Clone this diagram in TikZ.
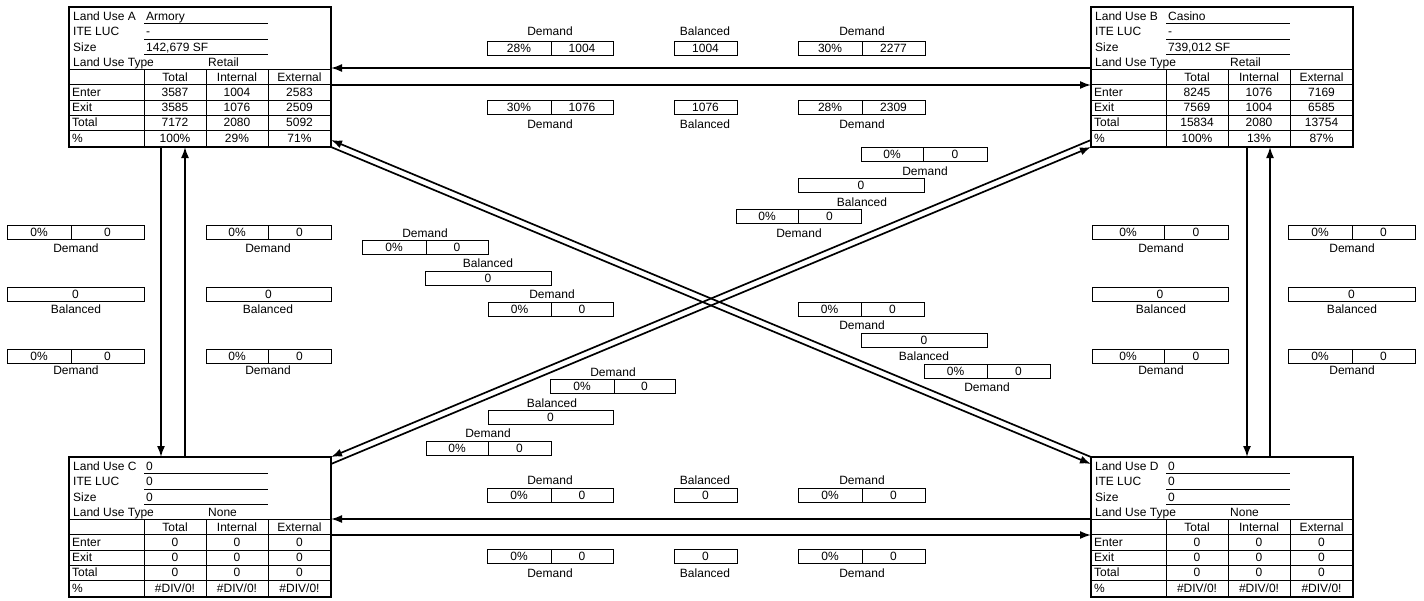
\documentclass[tikz,border=0pt]{standalone}
\usepackage{fontspec}
\setmainfont{Liberation Sans}
\usetikzlibrary{arrows.meta}
\tikzset{
  tblout/.style={line width=1.8pt},
  tblin/.style={line width=0.9pt},
  cellst/.style={line width=1pt},
  txt/.style={inner sep=0pt, font=\fontsize{12}{14}\selectfont},
  arr/.style={line width=1.7pt, -{Latex[length=11pt,width=8pt]}},
}
\def\bh{14}
\def\bb{11.3}
% table frame and header: #1 name, #2 x0, #3 y0, #4 letter, #5 use, #6 luc, #7 size, #8 type
\newcommand{\lubox}[8]{%
\begin{scope}[shift={(#2,#3)}]
  \fill[white] (0,0) rectangle (262,140);
  \draw[tblin] (0,62) -- (262,62) (0,77) -- (262,77) (0,93) -- (262,93)
               (0,108) -- (262,108) (0,123) -- (262,123);
  \draw[tblin] (75,62) -- (75,140) (137,62) -- (137,140) (199,62) -- (199,140);
  \draw[tblin] (75,16) -- (199,16) (75,32) -- (199,32) (75,47) -- (199,47);
  \draw[tblout] (0,0) rectangle (262,140);
  \node[txt,anchor=base west] (#1h1) at (4,13) {Land Use #4};
  \node[txt,anchor=base west] (#1v1) at (77,13) {#5};
  \node[txt,anchor=base west] (#1h2) at (4,28) {ITE LUC};
  \node[txt,anchor=base west] (#1v2) at (77,28) {#6};
  \node[txt,anchor=base west] (#1h3) at (4,44) {Size};
  \node[txt,anchor=base west] (#1v3) at (77,44) {#7};
  \node[txt,anchor=base west] (#1h4) at (4,59) {Land Use Type};
  \node[txt,anchor=base west] (#1v4) at (139,59) {#8};
  \node[txt,anchor=base] (#1c1) at (106,74) {Total};
  \node[txt,anchor=base] (#1c2) at (168,74) {Internal};
  \node[txt,anchor=base] (#1c3) at (230.5,74) {External};
\end{scope}}
% table row: #1 name, #2 x0, #3 y0, #4 baseline, #5 label, #6 #7 #8 values
\newcommand{\lucells}[8]{%
\begin{scope}[shift={(#2,#3)}]
  \node[txt,anchor=base west] (#1l) at (3,#4) {#5};
  \node[txt,anchor=base] (#1a) at (106,#4) {#6};
  \node[txt,anchor=base] (#1b) at (168,#4) {#7};
  \node[txt,anchor=base] (#1c) at (230.5,#4) {#8};
\end{scope}}
% demand box: #1 name, #2 x1, #3 xs, #4 x2, #5 y1, #6 pct, #7 val
\newcommand{\dbox}[7]{%
  \draw[cellst,fill=white] (#2,#5) rectangle (#4,{#5+\bh});
  \draw[cellst] (#3,#5) -- (#3,{#5+\bh});
  \node[txt,anchor=base] (#1a) at ({(#2+#3)/2},{#5+\bb}) {#6};
  \node[txt,anchor=base] (#1b) at ({(#3+#4)/2},{#5+\bb}) {#7};}
% balanced box: #1 name, #2 x1, #3 x2, #4 y1, #5 val
\newcommand{\bbox}[5]{%
  \draw[cellst,fill=white] (#2,#4) rectangle (#3,{#4+\bh});
  \node[txt,anchor=base] (#1a) at ({(#2+#3)/2},{#4+\bb}) {#5};}
% label: #1 name, #2 x, #3 center y, #4 text
\newcommand{\blab}[4]{\node[txt,anchor=base] (#1) at (#2,{#3+4.3}) {#4};}

\begin{document}
\begin{tikzpicture}[x=1pt,y=-1pt]
\useasboundingbox (0,0) rectangle (1424,600);
\fill[white] (0,0) rectangle (1424,600);

% anchor coordinates on the tables
\coordinate (Ab1) at (161,147);  \coordinate (Ct1) at (161,457);
\coordinate (Ab2) at (185,147);  \coordinate (Ct2) at (185,457);
\coordinate (Bb1) at (1247,147); \coordinate (Dt1) at (1247,457);
\coordinate (Bb2) at (1270,147); \coordinate (Dt2) at (1270,457);
\coordinate (Ar1) at (331,68);   \coordinate (Bl1) at (1091,68);
\coordinate (Ar2) at (331,85);   \coordinate (Bl2) at (1091,85);
\coordinate (Cr1) at (331,519);  \coordinate (Dl1) at (1091,519);
\coordinate (Cr2) at (331,535);  \coordinate (Dl2) at (1091,535);
\coordinate (Acr) at (331,147);  \coordinate (Are) at (331,140);
\coordinate (Dtl) at (1091,457); \coordinate (Dle) at (1091,464);
\coordinate (Bbl) at (1091,147); \coordinate (Ble) at (1091,140);
\coordinate (Ctr) at (331,457);  \coordinate (Cre) at (331,464);

% connectors
\draw[arr] (Ab1) -- (Ct1);
\draw[arr] (Ct2) -- (Ab2);
\draw[arr] (Bb1) -- (Dt1);
\draw[arr] (Dt2) -- (Bb2);
\draw[arr] (Bl1) -- (Ar1);
\draw[arr] (Ar2) -- (Bl2);
\draw[arr] (Dl1) -- (Cr1);
\draw[arr] (Cr2) -- (Dl2);
\draw[arr] (Dtl) -- (Are);
\draw[arr] (Acr) -- (Dle);
\draw[arr] (Ble) -- (Ctr);
\draw[arr] (Cre) -- (Bbl);

% tables
\lubox{A}{69}{7}{A}{Armory}{-}{142,679 SF}{Retail}
\lucells{Ae}{69}{7}{89}{Enter}{3587}{1004}{2583}
\lucells{Ax}{69}{7}{104}{Exit}{3585}{1076}{2509}
\lucells{At}{69}{7}{119}{Total}{7172}{2080}{5092}
\lucells{Ap}{69}{7}{135}{\%}{100\%}{29\%}{71\%}

\lubox{B}{1091}{7}{B}{Casino}{-}{739,012 SF}{Retail}
\lucells{Be}{1091}{7}{89}{Enter}{8245}{1076}{7169}
\lucells{Bx}{1091}{7}{104}{Exit}{7569}{1004}{6585}
\lucells{Bt}{1091}{7}{119}{Total}{15834}{2080}{13754}
\lucells{Bp}{1091}{7}{135}{\%}{100\%}{13\%}{87\%}

\lubox{C}{69}{457}{C}{0}{0}{0}{None}
\lucells{Ce}{69}{457}{89}{Enter}{0}{0}{0}
\lucells{Cx}{69}{457}{104}{Exit}{0}{0}{0}
\lucells{Ct}{69}{457}{119}{Total}{0}{0}{0}
\lucells{Cp}{69}{457}{135}{\%}{\#DIV/0!}{\#DIV/0!}{\#DIV/0!}

\lubox{D}{1091}{457}{D}{0}{0}{0}{None}
\lucells{De}{1091}{457}{89}{Enter}{0}{0}{0}
\lucells{Dx}{1091}{457}{104}{Exit}{0}{0}{0}
\lucells{Dt}{1091}{457}{119}{Total}{0}{0}{0}
\lucells{Dp}{1091}{457}{135}{\%}{\#DIV/0!}{\#DIV/0!}{\#DIV/0!}

% A-B boxes
\dbox{ab1}{487}{551}{613}{41}{28\%}{1004}   \blab{ab1l}{550}{31}{Demand}
\bbox{ab2}{674}{737}{41}{1004}              \blab{ab2l}{705}{31}{Balanced}
\dbox{ab3}{798}{862}{925}{41}{30\%}{2277}   \blab{ab3l}{862}{31}{Demand}
\dbox{ab4}{487}{551}{613}{100}{30\%}{1076}  \blab{ab4l}{550}{124}{Demand}
\bbox{ab5}{674}{737}{100}{1076}             \blab{ab5l}{705}{124}{Balanced}
\dbox{ab6}{798}{862}{925}{100}{28\%}{2309}  \blab{ab6l}{862}{124}{Demand}

% C-D boxes
\dbox{cd1}{487}{551}{613}{488}{0\%}{0}      \blab{cd1l}{550}{480}{Demand}
\bbox{cd2}{674}{737}{488}{0}                \blab{cd2l}{705}{480}{Balanced}
\dbox{cd3}{798}{862}{925}{488}{0\%}{0}      \blab{cd3l}{862}{480}{Demand}
\dbox{cd4}{487}{551}{613}{549}{0\%}{0}      \blab{cd4l}{550}{573}{Demand}
\bbox{cd5}{674}{737}{549}{0}                \blab{cd5l}{705}{573}{Balanced}
\dbox{cd6}{798}{862}{925}{549}{0\%}{0}      \blab{cd6l}{862}{573}{Demand}

% A-C boxes
\dbox{ac1}{7}{71}{144}{225}{0\%}{0}         \blab{ac1l}{76}{248}{Demand}
\bbox{ac2}{7}{144}{287}{0}                  \blab{ac2l}{76}{309}{Balanced}
\dbox{ac3}{7}{71}{144}{349}{0\%}{0}         \blab{ac3l}{76}{370}{Demand}
\dbox{ac4}{206}{268}{331}{225}{0\%}{0}      \blab{ac4l}{268}{248}{Demand}
\bbox{ac5}{206}{331}{287}{0}                \blab{ac5l}{268}{309}{Balanced}
\dbox{ac6}{206}{268}{331}{349}{0\%}{0}      \blab{ac6l}{268}{370}{Demand}

% B-D boxes
\dbox{bd1}{1092}{1164}{1228}{225}{0\%}{0}   \blab{bd1l}{1161}{248}{Demand}
\bbox{bd2}{1092}{1228}{287}{0}              \blab{bd2l}{1161}{309}{Balanced}
\dbox{bd3}{1092}{1164}{1228}{349}{0\%}{0}   \blab{bd3l}{1161}{370}{Demand}
\dbox{bd4}{1288}{1352}{1415}{225}{0\%}{0}   \blab{bd4l}{1352}{248}{Demand}
\bbox{bd5}{1288}{1415}{287}{0}              \blab{bd5l}{1352}{309}{Balanced}
\dbox{bd6}{1288}{1352}{1415}{349}{0\%}{0}   \blab{bd6l}{1352}{370}{Demand}

% A-D boxes
\blab{ad1l}{425}{233}{Demand}    \dbox{ad1}{362}{426}{488}{240}{0\%}{0}
\blab{ad2l}{488}{263}{Balanced}  \bbox{ad2}{425}{551}{271}{0}
\blab{ad3l}{552}{294}{Demand}    \dbox{ad3}{488}{551}{613}{302}{0\%}{0}
\dbox{ad4}{798}{861}{924}{302}{0\%}{0}    \blab{ad4l}{862}{325}{Demand}
\bbox{ad5}{861}{987}{333}{0}              \blab{ad5l}{924}{356}{Balanced}
\dbox{ad6}{924}{987}{1050}{364}{0\%}{0}   \blab{ad6l}{987}{387}{Demand}

% B-C boxes
\dbox{bc1}{861}{923}{987}{147}{0\%}{0}    \blab{bc1l}{925}{171}{Demand}
\bbox{bc2}{798}{924}{178}{0}              \blab{bc2l}{862}{202}{Balanced}
\dbox{bc3}{736}{798}{861}{209}{0\%}{0}    \blab{bc3l}{799}{233}{Demand}
\blab{bc4l}{613}{372}{Demand}    \dbox{bc4}{550}{614}{675}{379}{0\%}{0}
\blab{bc5l}{552}{403}{Balanced}  \bbox{bc5}{488}{613}{410}{0}
\blab{bc6l}{488}{433}{Demand}    \dbox{bc6}{426}{488}{551}{441}{0\%}{0}
\end{tikzpicture}
\end{document}
